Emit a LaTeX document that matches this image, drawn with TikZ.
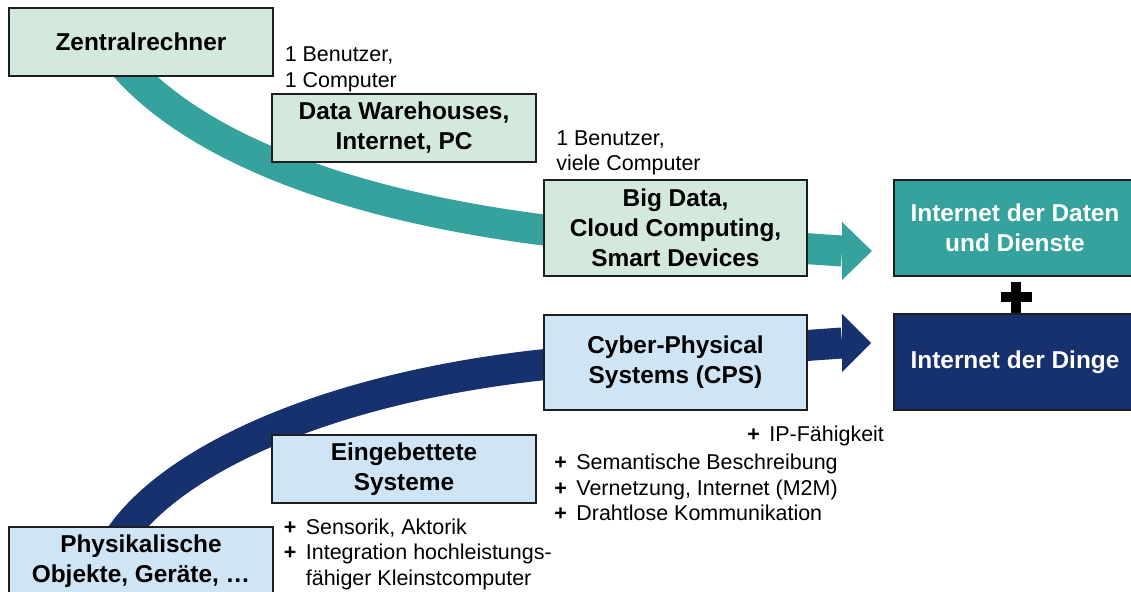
\documentclass[tikz,border=0pt]{standalone}
\usepackage{fontspec}
\setmainfont{Liberation Sans}
\definecolor{greenfill}{HTML}{D4E9DE}
\definecolor{bluefill}{HTML}{CFE5F5}
\definecolor{tealband}{HTML}{35A29D}
\definecolor{navyband}{HTML}{17306E}
\definecolor{boxline}{HTML}{1E1E1E}
\newcommand\boxfont{\fontsize{18.3}{22.5}\selectfont\bfseries}
\newcommand\notefont{\fontsize{16.1}{19.2}\selectfont}
\newcommand\plusitem{\makebox[16.6pt][l]{\textbf{+}}}
\begin{document}
\begin{tikzpicture}[x=0.75pt,y=-0.75pt,
  stage/.style={draw=boxline, line width=1.1pt, inner sep=0pt, align=center,
    font=\boxfont, minimum width=198pt, minimum height=51pt},
  greenstage/.style={stage, fill=greenfill},
  bluestage/.style={stage, fill=bluefill},
  goal/.style={stage, text=white, minimum width=181.5pt, minimum height=72pt},
  band/.style={line width=23.25pt, line cap=butt, line join=round},
  note/.style={anchor=base west, inner sep=0pt, font=\notefont}
]
\useasboundingbox (0,0) rectangle (1131,592);

% upper band: from the mainframe to the internet of data and services
\coordinate (ts) at (125,66);
\coordinate (tm) at (560,232);
\coordinate (te) at (842,251);
\draw[band, tealband] (ts) .. controls (190,140) and (330,205) .. (tm) -- (te);
\fill[tealband] (842,222) -- (872,251) -- (842,280) -- cycle;

% lower band: from physical objects to the internet of things
\coordinate (ns) at (118,540);
\coordinate (nm) at (560,363);
\coordinate (ne) at (842,343);
\draw[band, navyband] (ns) .. controls (170,460) and (330,385) .. (nm) -- (ne);
\fill[navyband] (842,314) -- (871,343) -- (842,372) -- cycle;

% stages
\node[greenstage] (zr) at (141,42) {Zentralrechner};
\node[greenstage] (dw) at (404,128) {Data Warehouses,\\Internet, PC};
\node[greenstage, minimum width=197.25pt, minimum height=72pt] (bd) at (675.5,228)
  {Big Data,\\Cloud Computing,\\Smart Devices};
\node[bluestage, minimum width=197.25pt, minimum height=71.25pt] (cps) at (675.5,362.5)
  {Cyber-Physical\\Systems (CPS)};
\node[bluestage] (eb) at (404,469) {Eingebettete\\Systeme};
\node[bluestage] (po) at (141,561) {Physikalische\\Objekte, Geräte, …};

% results
\node[goal, fill=tealband] (ida) at (1015,228) {Internet der Daten\\und Dienste};
\node[goal, fill=navyband] (idi) at (1015,362) {Internet der Dinge};
\draw[line width=7.7pt, line cap=butt] (1000.5,297) -- (1031.5,297) (1016,281.5) -- (1016,312.5);

% annotations
\node[note] (n1) at (284.5,62) {\begin{tabular}[t]{@{}l@{}}1 Benutzer,\\1 Computer\end{tabular}};
\node[note] (n2) at (556,145) {\begin{tabular}[t]{@{}l@{}}1 Benutzer,\\viele Computer\end{tabular}};
\node[note] (n3) at (747,441) {\plusitem IP-Fähigkeit};
\node[note] (n4) at (554,469.5) {\begin{tabular}[t]{@{}l@{}}\plusitem Semantische Beschreibung\\
  \plusitem Vernetzung, Internet (M2M)\\ \plusitem Drahtlose Kommunikation\end{tabular}};
\node[note] (n5) at (283.5,534) {\begin{tabular}[t]{@{}l@{}}\plusitem Sensorik, Aktorik\\
  \plusitem Integration hochleistungs-\\ \hspace{16.6pt}fähiger Kleinstcomputer\end{tabular}};
\end{tikzpicture}
\end{document}
